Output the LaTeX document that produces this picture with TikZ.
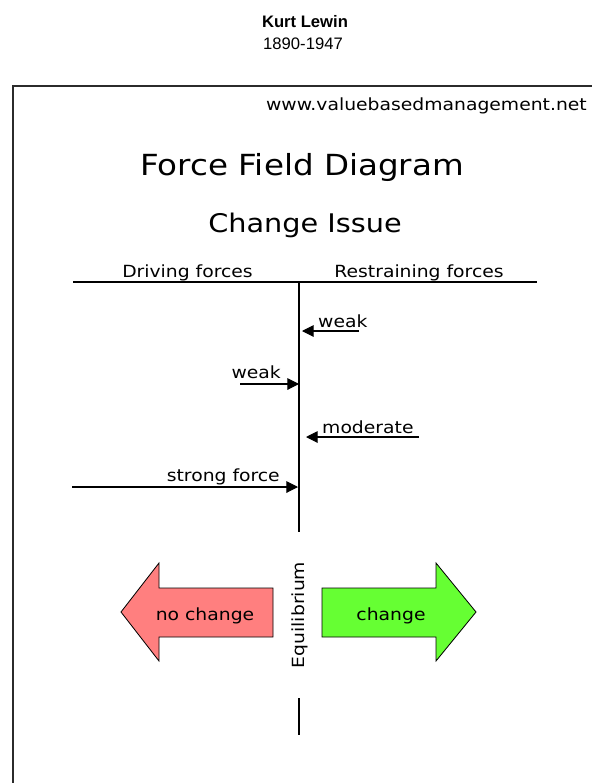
\documentclass[tikz,border=0pt]{standalone}
\usepackage{fontspec}
\setmainfont{DejaVu Sans}[FakeStretch=1.12]
\newfontfamily\headfont{Liberation Sans}
\usepackage{xcolor}
\usetikzlibrary{arrows.meta}
\definecolor{ink}{HTML}{000000}
\definecolor{frame}{HTML}{2B2B2B}
\definecolor{stayTint}{HTML}{FF7F7F}
\definecolor{moveTint}{HTML}{66FF33}
\tikzset{
  px/.style={x=0.03cm, y=-0.03cm},
  frameline/.style={draw=frame, line width=1.4pt},
  axis/.style={draw=ink, line width=1.1pt},
  force/.style={draw=ink, line width=0.9pt, -{Triangle[length=10pt,width=10pt]}},
  bigarrow/.style={draw=ink, line width=0.7pt, fill=#1},
  t/.style={inner sep=0pt, anchor=base, font=\fontsize{14.3}{17}\selectfont, text=ink},
  tl/.style={t, anchor=base west},
  tr/.style={t, anchor=base east},
  th/.style={t, font=\fontsize{24.8}{29}\selectfont},
  tsub/.style={t, font=\fontsize{21.9}{26}\selectfont},
  tname/.style={t, font=\headfont\fontsize{14.2}{17}\selectfont},
}

\begin{document}
\begin{tikzpicture}[px]
  \useasboundingbox (0,0) rectangle (592,783);

  % heading above the frame
  \node[tname, font=\headfont\bfseries\fontsize{14.2}{17}\selectfont] (name) at (305,27) {Kurt Lewin};
  \node[tname] (years) at (303,49) {1890-1947};

  % frame
  \draw[frameline] (13,783) |- (592,86);
  \node[tr] (site) at (587,110) {www.valuebasedmanagement.net};
  \node[th] (title) at (302,175) {Force Field Diagram};
  \node[tsub] (issue) at (305,232) {Change Issue};
  \node[t] (driving) at (187.5,277) {Driving forces};
  \node[t] (restraining) at (419,277) {Restraining forces};

  % axes
  \coordinate (hl) at (73,282); \coordinate (hr) at (537,282);
  \coordinate (top) at (299,282); \coordinate (bot) at (299,532);
  \draw[axis] (hl) -- (hr);
  \draw[axis] (top) -- (bot);

  % forces: label / tail / tip
  \foreach \id/\lab/\lx/\ly/\side/\tx/\px/\y in {
      r1/weak/318/327/tl/359/302/331,
      d1/weak/281/378/tr/240/299/384,
      r2/moderate/322/433/tl/419/306/437,
      d2/strong force/280/481/tr/72/298/487} {
    \node[\side] (\id) at (\lx,\ly) {\lab};
    \coordinate (\id tail) at (\tx,\y);
    \coordinate (\id tip) at (\px,\y);
    \draw[force] (\id tail) -- (\id tip);
  }

  % outcome arrows
  \draw[bigarrow=stayTint] (121,612) -- (159,563) -- (159,588) -- (273,588) -- (273,637) -- (159,637) -- (159,661) -- cycle;
  \draw[bigarrow=moveTint] (476,612) -- (436,563) -- (436,588) -- (322,588) -- (322,637) -- (436,637) -- (436,661) -- cycle;
  \node[t] (stay) at (205,620) {no change};
  \node[t] (move) at (391,620) {change};
  \node[t, anchor=center, rotate=90] (equi) at (300,615) {Equilibrium};

  \coordinate (stubtop) at (299,698); \coordinate (stubbot) at (299,735);
  \draw[axis] (stubtop) -- (stubbot);
\end{tikzpicture}
\end{document}
